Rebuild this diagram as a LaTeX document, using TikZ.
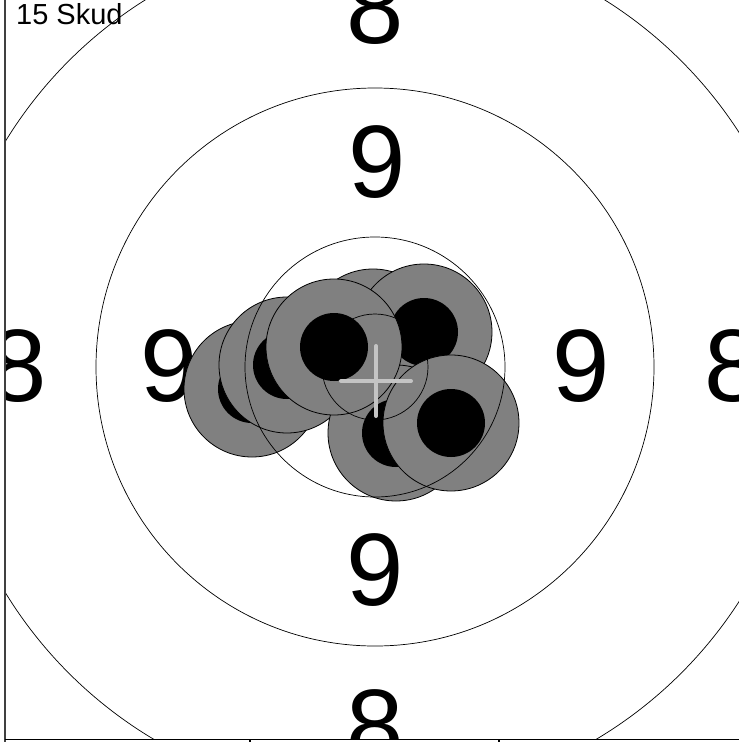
\documentclass[tikz,border=0pt]{standalone}
\usepackage{fontspec}
\setmainfont{Liberation Sans}
\definecolor{shotgray}{HTML}{808080}
\definecolor{crossgray}{HTML}{C4C4C4}
\definecolor{framegray}{HTML}{404040}
\tikzset{
  shot/.style={circle, draw=black, fill=shotgray, line width=0.8pt, minimum size=136pt, inner sep=0pt,
    path picture={\fill[black] (path picture bounding box.center) circle (34pt);}},
  ring/.style={draw=black, line width=0.7pt},
  bignum/.style={inner sep=0pt, font=\fontsize{103}{103}\selectfont},
  crossline/.style={draw=crossgray, line width=4pt, line cap=round},
  frameline/.style={draw=black, line width=1.2pt},
}
\begin{document}
\begin{tikzpicture}[x=1pt,y=-1pt]
\useasboundingbox (0,0) rectangle (739,742);
\fill[white] (0,0) rectangle (739,742);
\coordinate (c) at (375,367);
\begin{scope}
\clip (5,0) rectangle (739,739);
% score numbers
\node[bignum] (n8t) at (375,8) {8};
\node[bignum] (n8b) at (375,726) {8};
\node[bignum] (n8l) at (18,366) {8};
\node[bignum] (n8r) at (733,366) {8};
\node[bignum] (n9t) at (377,162) {9};
\node[bignum] (n9b) at (375,570) {9};
\node[bignum] (n9l) at (169,366) {9};
\node[bignum] (n9r) at (581,366) {9};
% shots
\node[shot] (sA) at (252,389) {};
\node[shot] (sB) at (287,365) {};
\node[shot] (sD) at (373,337) {};
\node[shot] (sE) at (424,332) {};
\node[shot] (sG) at (396,433) {};
\node[shot] (sC) at (334,347) {};
\node[shot] (sF) at (451,423) {};
% rings
\draw[ring] (c) circle (53pt);
\draw[ring] (c) circle (130pt);
\draw[ring] (c) circle (279pt);
\draw[ring] (c) circle (433pt);
% mean point of impact cross
\coordinate (m) at (376,381);
\coordinate (mL) at (341,381);
\coordinate (mR) at (411,381);
\coordinate (mT) at (376,346);
\coordinate (mB) at (376,416);
\draw[crossline] (mL) -- (mR);
\draw[crossline] (mT) -- (mB);
\end{scope}
% frame
\coordinate (fTL) at (5,0);
\coordinate (fBL) at (5,742);
\coordinate (b0) at (5,739.5);
\coordinate (b1) at (739,739.5);
\coordinate (t1a) at (250,739.5);
\coordinate (t1b) at (250,742);
\coordinate (t2a) at (499,739.5);
\coordinate (t2b) at (499,742);
\draw[draw=framegray, line width=1.6pt] (fTL) -- (fBL);
\draw[frameline] (b0) -- (b1);
\draw[frameline] (t1a) -- (t1b);
\draw[frameline] (t2a) -- (t2b);
\node[anchor=base west, inner sep=0pt, font=\fontsize{29}{29}\selectfont] (title) at (16,24) {15 Skud};
\end{tikzpicture}
\end{document}
